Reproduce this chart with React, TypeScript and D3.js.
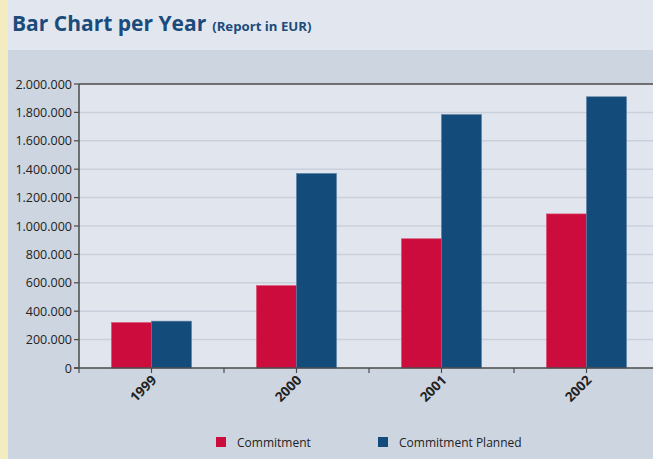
import React from "react";
import * as d3 from "d3";

const years = ["1999", "2000", "2001", "2002"];
const commitment = [320000, 580000, 910000, 1085000];
const commitmentPlanned = [330000, 1370000, 1785000, 1910000];
const seriesNames = ["Commitment", "Commitment Planned"];
const seriesColors = ["#cc0c3c", "#134c7a"];
const yTicks = [0, 200000, 400000, 600000, 800000, 1000000, 1200000, 1400000, 1600000, 1800000, 2000000];

const W = 653;
const H = 459;
const FONT = "'Open Sans', 'Noto Sans', sans-serif";

export default function App() {
  const left = 79, right = 659, top = 84, bottom = 368;
  const x = d3.scaleBand<string>().domain(years).range([left, right]);
  const y = d3.scaleLinear().domain([0, 2000000]).range([bottom, top]);
  const barW = 40;
  const fmt = (v: number) => d3.format(",")(v).replace(/,/g, ".");
  const series = [commitment, commitmentPlanned];

  return (
    <svg width={W} height={H} style={{ position: "absolute", left: 0, top: 0, display: "block" }}>
      <rect x={0} y={0} width={W} height={H} fill="#cdd5e0" />
      <rect x={0} y={0} width={W} height={50} fill="#e2e7ef" />
      <rect x={0} y={0} width={8} height={H} fill="#f2ecc0" />
      <text x={12} y={31} fill="#1b4b7b" fontFamily={FONT} fontWeight={700}>
        <tspan fontSize={21}>Bar Chart per Year</tspan>
        <tspan fontSize={13.2} dx={6}>(Report in EUR)</tspan>
      </text>
      <rect x={left} y={top} width={right - left} height={bottom - top} fill="#e1e6ee" />
      {yTicks.slice(1, -1).map((t) => (
        <line key={t} x1={left} x2={right} y1={y(t)} y2={y(t)} stroke="#c9d0db" strokeWidth={1.5} />
      ))}
      {years.map((yr, i) =>
        series.map((s, j) => (
          <rect
            key={yr + j}
            x={x(yr)! + x.bandwidth() / 2 - barW + j * barW}
            y={y(s[i])}
            width={barW}
            height={bottom - y(s[i])}
            fill={seriesColors[j]}
            stroke={j === 1 ? "#5b7fa3" : "#d84a6c"}
            strokeWidth={0.6}
          />
        ))
      )}
      <line x1={left} x2={W} y1={top} y2={top} stroke="#4a4a4a" strokeWidth={1.5} />
      <line x1={left} x2={left} y1={top} y2={bottom} stroke="#4a4a4a" strokeWidth={1.5} />
      <line x1={left - 5} x2={W} y1={bottom} y2={bottom} stroke="#4a4a4a" strokeWidth={1.5} />
      {yTicks.map((t) => (
        <g key={t}>
          <line x1={left - 5} x2={left} y1={y(t)} y2={y(t)} stroke="#4a4a4a" strokeWidth={1.2} />
          <text x={left - 7} y={y(t) + 4.5} textAnchor="end" fontFamily={FONT} fontSize={12.5} fill="#222">
            {fmt(t)}
          </text>
        </g>
      ))}
      {d3.range(years.length + 1).map((k) => {
        const xv = left + k * x.step();
        return <line key={"b" + k} x1={xv} x2={xv} y1={bottom} y2={bottom + 5} stroke="#4a4a4a" strokeWidth={1.2} />;
      })}
      {years.map((yr) => {
        const cx = x(yr)! + x.bandwidth() / 2;
        return (
          <g key={"t" + yr}>
            <line x1={cx} x2={cx} y1={bottom} y2={bottom + 5} stroke="#4a4a4a" strokeWidth={1.2} />
            <text
              transform={`translate(${cx + 6},${bottom + 13}) rotate(-45)`}
              textAnchor="end"
              fontFamily={FONT}
              fontWeight={700}
              fontSize={13.5}
              fill="#222"
            >
              {yr}
            </text>
          </g>
        );
      })}
      {seriesNames.map((n, j) => {
        const lx = j === 0 ? 216 : 378;
        return (
          <g key={n}>
            <rect x={lx} y={437} width={10} height={10} fill={seriesColors[j]} />
            <text x={lx + 21} y={446.5} fontFamily={FONT} fontSize={12} fill="#222">
              {n}
            </text>
          </g>
        );
      })}
    </svg>
  );
}
